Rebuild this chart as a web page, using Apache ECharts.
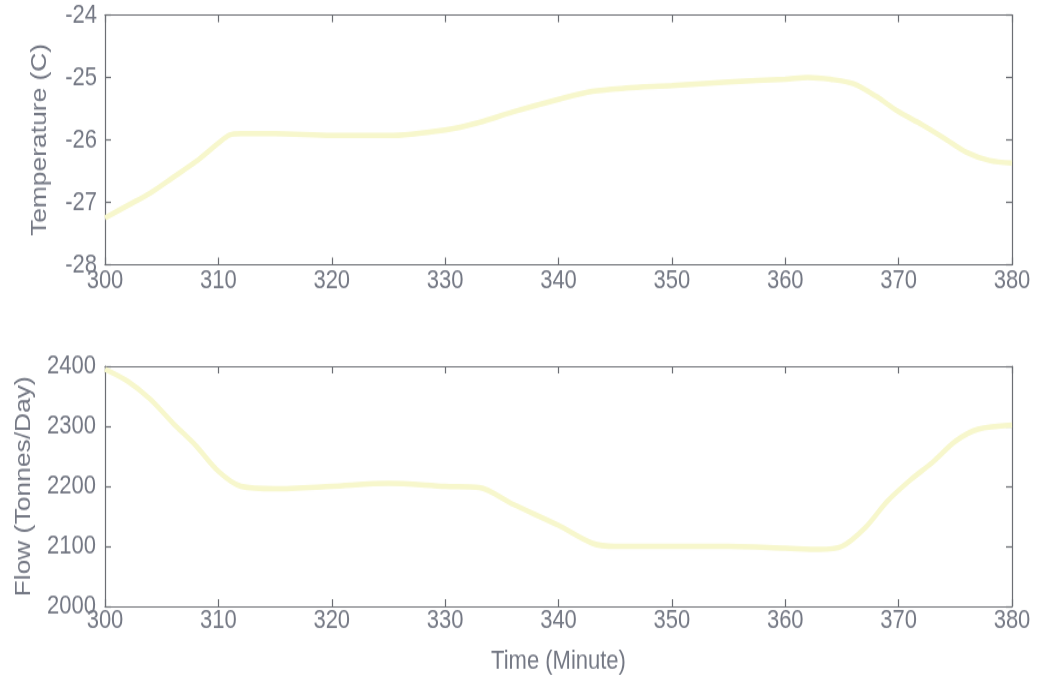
<!DOCTYPE html>
<html>
<head>
<meta charset="utf-8">
<title>Temperature and Flow</title>
<script src="https://cdn.jsdelivr.net/npm/echarts@6/dist/echarts.min.js"></script>
<style>
  html, body { margin: 0; padding: 0; background: #ffffff; width: 1040px; height: 676px; }
  #page { position: relative; width: 1040px; height: 676px; overflow: hidden; background: #ffffff; }
  /* The figure is drawn at a shorter height and stretched vertically,
     giving the tall lettering of the original printout. */
  #chart { position: absolute; left: 0; top: 0; width: 1040px; height: 563px;
           transform: scaleY(1.2007); transform-origin: 0 0; }
</style>
</head>
<body>
<div id="page"><div id="chart"></div></div>
<script>
// Time samples (minutes) and measured values for each panel
const tempTime = [300, 302, 304, 306, 308, 310, 311, 312, 315, 320, 325, 330, 333, 336, 340, 343, 346, 350, 355, 360, 362, 364, 366, 368, 370, 372, 374, 376, 378, 380];
const tempValues = [-27.25, -27.05, -26.85, -26.6, -26.35, -26.05, -25.92, -25.9, -25.9, -25.93, -25.93, -25.84, -25.72, -25.55, -25.35, -25.22, -25.17, -25.13, -25.07, -25.03, -25.0, -25.03, -25.1, -25.3, -25.55, -25.75, -25.97, -26.2, -26.33, -26.37];

const flowTime = [300, 302, 304, 306, 308, 310, 312, 315, 320, 325, 330, 333, 336, 340, 343, 345, 350, 355, 360, 363, 365, 367, 369, 371, 373, 375, 377, 380];
const flowValues = [2395, 2375, 2345, 2305, 2268, 2225, 2200, 2196, 2200, 2205, 2200, 2198, 2170, 2135, 2105, 2100, 2100, 2100, 2097, 2095, 2100, 2130, 2175, 2210, 2240, 2275, 2295, 2302];

const timeTicks = { min: 300, max: 380, interval: 10 };
const tempTicks = { min: -28, max: -24, interval: 1 };
const flowTicks = { min: 2000, max: 2400, interval: 100 };

const timeLabel = 'Time (Minute)';
const tempLabel = 'Temperature (C)';
const flowLabel = 'Flow (Tonnes/Day)';

const FONT = '"Liberation Sans", Arial, sans-serif';
const TEXT = '#747884';
const AXIS = '#6c6e74';
const LINE = '#f7f7cc';

function pair(xs, ys) { return xs.map((x, i) => [x, ys[i]]); }
const plain = v => String(v);

function labelStyle(extra) {
  return Object.assign({ color: TEXT, fontFamily: FONT, fontSize: 22, formatter: plain }, extra);
}

function boxAxis(base, extra) {
  return Object.assign({
    type: 'value',
    axisLine: { show: true, onZero: false, lineStyle: { color: AXIS, width: 1.2 } },
    axisTick: { show: true, inside: true, length: 6, lineStyle: { color: AXIS, width: 1.2 } },
    axisLabel: labelStyle({}),
    splitLine: { show: false }
  }, base, extra);
}

const nameStyle = { color: TEXT, fontFamily: FONT, fontSize: 22 };

const chart = echarts.init(document.getElementById('chart'));
chart.setOption({
  animation: false,
  backgroundColor: '#ffffff',
  grid: [
    { left: 105, right: 28, top: 12.5, height: 208 },
    { left: 105, right: 28, top: 305, height: 203 }
  ],
  xAxis: [
    boxAxis(timeTicks, { gridIndex: 0, position: 'bottom', axisLabel: labelStyle({ margin: 2 }) }),
    boxAxis(timeTicks, { gridIndex: 0, position: 'top', axisLabel: { show: false } }),
    boxAxis(timeTicks, { gridIndex: 1, position: 'bottom', name: timeLabel, nameLocation: 'middle', nameGap: 35,
      nameTextStyle: nameStyle, axisLabel: labelStyle({ margin: 1 }) }),
    boxAxis(timeTicks, { gridIndex: 1, position: 'top', axisLabel: { show: false } })
  ],
  yAxis: [
    boxAxis(tempTicks, { gridIndex: 0, position: 'left', name: tempLabel, nameLocation: 'middle', nameGap: 54,
      nameTextStyle: nameStyle, axisLabel: labelStyle({ margin: 8 }) }),
    boxAxis(tempTicks, { gridIndex: 0, position: 'right', axisLabel: { show: false } }),
    boxAxis(flowTicks, { gridIndex: 1, position: 'left', name: flowLabel, nameLocation: 'middle', nameGap: 70,
      nameTextStyle: nameStyle, axisLabel: labelStyle({ margin: 9 }) }),
    boxAxis(flowTicks, { gridIndex: 1, position: 'right', axisLabel: { show: false } })
  ],
  series: [
    {
      type: 'line', xAxisIndex: 0, yAxisIndex: 0,
      data: pair(tempTime, tempValues),
      smooth: 0.3, showSymbol: false,
      lineStyle: { color: LINE, width: 4.5 }
    },
    {
      type: 'line', xAxisIndex: 2, yAxisIndex: 2,
      data: pair(flowTime, flowValues),
      smooth: 0.3, showSymbol: false,
      lineStyle: { color: LINE, width: 4.5 }
    }
  ]
});
</script>
</body>
</html>
